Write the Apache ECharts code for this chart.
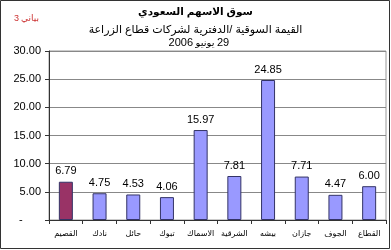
<!DOCTYPE html>
<html><head><meta charset="utf-8">
<script src="https://cdn.jsdelivr.net/npm/echarts@6/dist/echarts.min.js"></script>
<style>html,body{margin:0;padding:0;background:#fff}#c{width:391px;height:250px}</style>
</head><body><div id="c"></div>
<script>
const categories = ['القصيم','نادك','حائل','تبوك','الاسماك','الشرقية','بيشه','جازان','الجوف','القطاع'];
const values = [6.79, 4.75, 4.53, 4.06, 15.97, 7.81, 24.85, 7.71, 4.47, 6.00];
const yTicks = [0, 5, 10, 15, 20, 25, 30];
const titleText = 'سوق الاسهم السعودي';
const subText = 'القيمة السوقية /الدفترية لشركات قطاع الزراعة';
const dateParts = ['29', 'يونيو', '2006'];
const tagParts = ['بياني', '3'];
const FONT = '"Liberation Sans","DejaVu Sans",Arial,sans-serif';
const chart = echarts.init(document.getElementById('c'), null, {renderer:'canvas'});
chart.setOption({
  animation:false,
  backgroundColor:'#fff',
  textStyle:{fontFamily:FONT},
  graphic:[
    {type:'rect', shape:{x:0.5,y:0.5,width:389,height:248}, style:{fill:'none', stroke:'#333', lineWidth:1}},
    {type:'text', left:'center', top:7, style:{text:titleText, font:'bold 10.5px '+FONT, fill:'#000'}},
    {type:'text', left:'center', top:24, style:{text:subText, font:'11px '+FONT, fill:'#000'}},
    {type:'text', x:217, y:37, style:{text:dateParts[0], font:'11px '+FONT, fill:'#000', align:'left', verticalAlign:'top'}},
    {type:'text', x:205, y:38, style:{text:dateParts[1], font:'10px '+FONT, fill:'#000', align:'center', verticalAlign:'top'}},
    {type:'text', x:193, y:37, style:{text:dateParts[2], font:'11px '+FONT, fill:'#000', align:'right', verticalAlign:'top'}},
    {type:'text', x:21, y:14, style:{text:tagParts[0], font:'9px '+FONT, fill:'#cc3333', align:'left', verticalAlign:'top'}},
    {type:'text', x:19, y:14, style:{text:tagParts[1], font:'9px '+FONT, fill:'#cc3333', align:'right', verticalAlign:'top'}}
  ],
  grid:{left:49, right:5, top:51, bottom:30, show:true, borderColor:'#999', borderWidth:1, backgroundColor:'transparent'},
  xAxis:{type:'category', data:categories,
    axisLine:{lineStyle:{color:'#333'}},
    axisTick:{show:true, inside:false, length:4, lineStyle:{color:'#333'}},
    axisLabel:{color:'#000', fontSize:8, margin:10, fontFamily:FONT, interval:0}},
  yAxis:{type:'value', min:0, max:30, interval:5,
    axisLine:{show:true, lineStyle:{color:'#333'}},
    axisTick:{show:true, length:4, lineStyle:{color:'#333'}},
    splitLine:{show:true, lineStyle:{color:'#888'}},
    axisLabel:{color:'#000', fontSize:11, margin:8, fontFamily:FONT,
      formatter:v=> v===0 ? '-      ' : v.toFixed(2)}},
  series:[{type:'bar', data:values.map((v,i)=>({value:v, itemStyle:{color: i===0?'#993366':'#9999ff'}})),
    barWidth:14,
    itemStyle:{borderColor:'#333366', borderWidth:1},
    label:{show:true, position:'top', color:'#000', fontSize:11, distance:5, fontFamily:FONT, formatter:p=>p.value.toFixed(2)}}]
});
</script></body></html>
